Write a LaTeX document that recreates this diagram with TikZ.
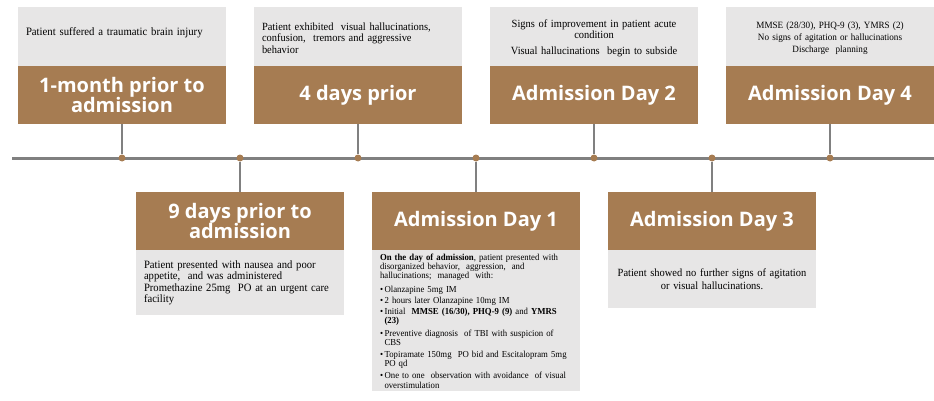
\documentclass[tikz,border=0pt]{standalone}
\usepackage{fontspec}
\setmainfont{Liberation Serif}[FakeStretch=0.95]
\newfontfamily\headfont{Open Sans}
\usepackage{tikz}
\usetikzlibrary{positioning}
\definecolor{eventBrown}{RGB}{166,124,82}
\definecolor{noteGrey}{RGB}{231,230,230}
\definecolor{lineGrey}{RGB}{128,128,128}
\hyphenpenalty=10000

\begin{document}
\begin{tikzpicture}[
  x=1pt, y=-1pt,
  head/.style={fill=eventBrown, text=white, font=\headfont\bfseries\fontsize{20}{20.5}\selectfont,
    minimum width=208pt, minimum height=58pt, inner sep=0pt, align=center},
  note/.style={fill=noteGrey, minimum width=208pt, inner sep=0pt, text width=192pt},
  stem/.style={draw=lineGrey, line width=1.4pt},
  tick/.style={circle, fill=eventBrown, inner sep=0pt, minimum size=7pt}
]
\useasboundingbox (0,0) rectangle (934,401);

% timeline
\coordinate (start) at (12,158);
\coordinate (end) at (934,158);
\draw[lineGrey, line width=3pt] (start) -- (end);
\node[tick] (t1) at (122,158) {};
\node[tick] (t2) at (240,158) {};
\node[tick] (t3) at (358,158) {};
\node[tick] (t4) at (476,158) {};
\node[tick] (t5) at (594,158) {};
\node[tick] (t6) at (712,158) {};
\node[tick] (t7) at (830,158) {};

% events above the line
\node[head] (month) at (122,95) {1-month prior to\\admission};
\node[note, above=0pt of month, minimum height=59pt, align=left, text depth=9pt,
  font=\fontsize{11.3}{12}\selectfont] (monthtxt) {Patient suffered a traumatic brain injury};

\node[head] (four) at (358,95) {4 days prior};
\node[note, above=0pt of four, minimum height=59pt, align=left, text height=11pt,
  font=\fontsize{11}{11.5}\selectfont] (fourtxt)
  {Patient exhibited \ visual hallucinations,\\confusion, \ tremors and aggressive\\behavior};

\node[head] (day2) at (594,95) {Admission Day 2};
\node[note, above=0pt of day2, minimum height=59pt, align=center, text height=12pt,
  font=\fontsize{11}{11}\selectfont] (day2txt)
  {Signs of improvement in patient acute\\condition\\[5pt]Visual hallucinations \ begin to subside};

\node[head] (day4) at (830,95) {Admission Day 4};
\node[note, above=0pt of day4, minimum height=59pt, align=center, text height=11pt,
  font=\fontsize{9.6}{12}\selectfont] (day4txt)
  {MMSE (28/30), PHQ-9 (3), YMRS (2)\\No signs of agitation or hallucinations\\Discharge \ planning};

% events below the line
\node[head] (nine) at (240,221) {9 days prior to\\admission};
\node[note, below=0pt of nine, minimum height=65pt, align=left,
  font=\fontsize{11.2}{11.5}\selectfont] (ninetxt)
  {Patient presented with nausea and poor\\appetite, \ and was administered\\Promethazine 25mg \ PO at an urgent care\\facility};

\node[head] (day1) at (476,221) {Admission Day 1};
\node[note, below=0pt of day1, minimum height=141pt, align=left,
  font=\fontsize{9.2}{9.3}\selectfont] (day1txt)
  {\textbf{On the day of admission}, patient presented with\\
   disorganized behavior, \ aggression, \ and\\
   hallucinations; \ managed \ with:\\[5pt]
   \textbullet\,Olanzapine 5mg IM\\[1.5pt]
   \textbullet\,2 hours later Olanzapine 10mg IM\\[1.5pt]
   \textbullet\,Initial \ \textbf{MMSE (16/30), PHQ-9 (9)} and \textbf{YMRS}\\
   \hspace*{4.5pt}\textbf{(23)}\\[3pt]
   \textbullet\,Preventive diagnosis \ of TBI with suspicion of\\
   \hspace*{4.5pt}CBS\\[2.5pt]
   \textbullet\,Topiramate 150mg \ PO bid and Escitalopram 5mg\\
   \hspace*{4.5pt}PO qd\\[3pt]
   \textbullet\,One to one \ observation with avoidance \ of visual\\
   \hspace*{4.5pt}overstimulation};

\node[head] (day3) at (712,221) {Admission Day 3};
\node[note, below=0pt of day3, minimum height=58pt, align=center,
  font=\fontsize{11}{12.5}\selectfont] (day3txt)
  {Patient showed no further signs of agitation\\or visual hallucinations.};

% stems
\draw[stem] (month) -- (t1);
\draw[stem] (four) -- (t3);
\draw[stem] (day2) -- (t5);
\draw[stem] (day4) -- (t7);
\draw[stem] (t2) -- (nine);
\draw[stem] (t4) -- (day1);
\draw[stem] (t6) -- (day3);
\end{tikzpicture}
\end{document}
